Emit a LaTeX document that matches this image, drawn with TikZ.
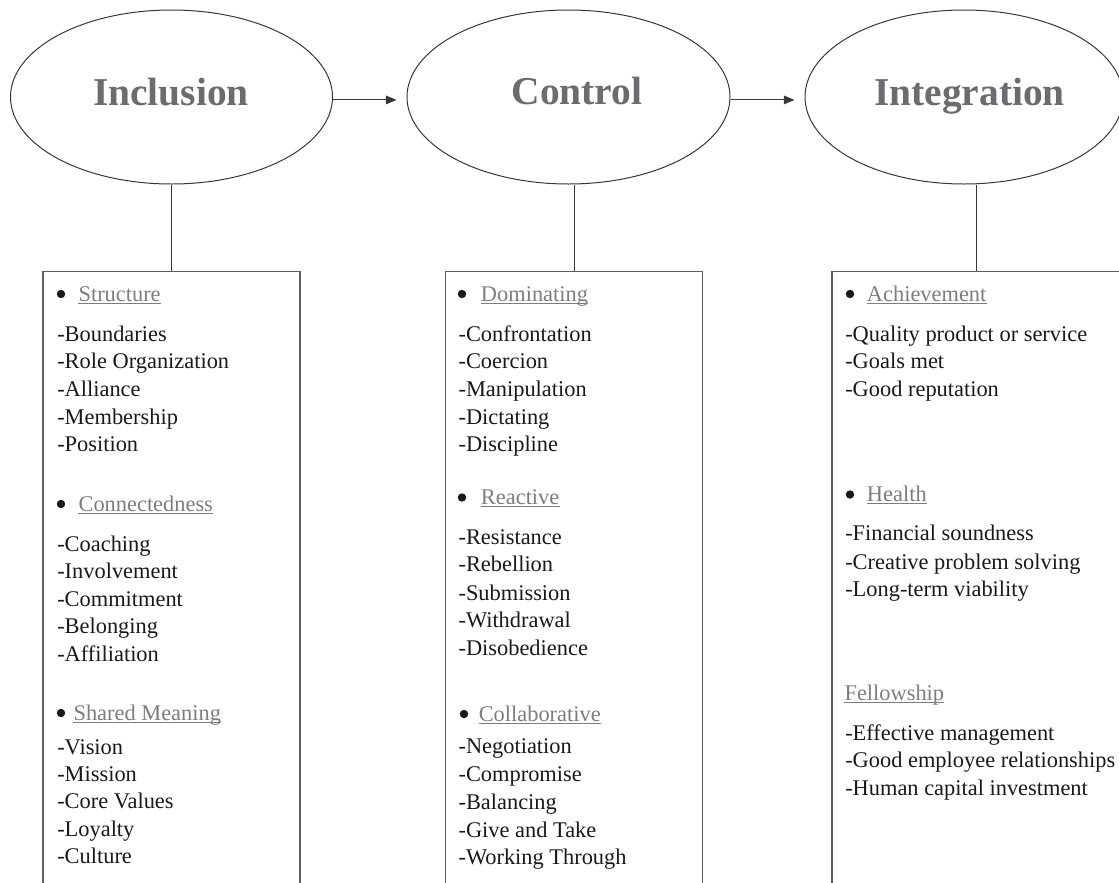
\documentclass[tikz,border=0pt]{standalone}
\usepackage{fontspec}
\setmainfont{Liberation Serif}
\usetikzlibrary{arrows.meta,shapes.geometric}
\definecolor{titlegray}{RGB}{108,108,112}
\definecolor{headgray}{RGB}{125,125,128}
\definecolor{boxline}{RGB}{95,95,95}
\definecolor{ellline}{RGB}{55,55,55}
\begin{document}
\begin{tikzpicture}[x=0.75pt,y=-0.75pt,
  ell/.style={ellipse, draw=ellline, line width=0.75pt, inner sep=0pt, minimum height=130.5pt},
  title/.style={anchor=base, inner sep=0pt, font=\fontsize{29.6}{34}\selectfont\bfseries, text=titlegray},
  colbox/.style={rectangle, draw=boxline, line width=1.1pt, anchor=north, minimum height=465pt, inner sep=0pt},
  conn/.style={draw=ellline, line width=0.75pt},
  arr/.style={draw=ellline, line width=0.8pt, -{Triangle[length=8pt,width=6.5pt]}, shorten >=7.5pt},
  item/.style={anchor=base west, inner sep=0pt, font=\fontsize{16.8}{20}\selectfont, text=black!90},
  head/.style={anchor=base west, inner sep=0pt, font=\fontsize{16.8}{20}\selectfont, text=headgray},
  bul/.style={circle, fill=black!90, inner sep=0pt, minimum size=6.3pt},
  uline/.style={draw=headgray, line width=0.9pt}
]
\useasboundingbox (0,0) rectangle (1119,882);
\clip (0,0) rectangle (1119,882);

% ellipses
\node[ell, minimum width=241.5pt] (ellI) at (171.5,97) {};
\node[ell, minimum width=242.25pt] (ellC) at (568.5,97) {};
\node[ell, minimum width=238.5pt] (ellG) at (964,97) {};
\node[title] (tI) at (171,105) {Inclusion};
\node[title] (tC) at (577,104) {Control};
\node[title] (tG) at (969.5,105) {Integration};

% arrows
\draw[arr] ([yshift=-2.2pt]ellI.east) -- ([yshift=-2.2pt]ellC.west);
\draw[arr] ([yshift=-2.2pt]ellC.east) -- ([yshift=-2.2pt]ellG.west);

% boxes
\node[colbox, minimum width=192.75pt] (boxI) at (171.5,270.7) {};
\node[colbox, minimum width=192.75pt] (boxC) at (574,270.7) {};
\node[colbox, minimum width=216pt] (boxG) at (976,270.7) {};

% connectors
\draw[conn] (ellI.south) -- (boxI.north);
\draw[conn] (boxC.north) -- (boxC.north |- ellC.south);
\draw[conn] (boxG.north) -- (boxG.north |- ellG.south);

% ---- Inclusion column
\node[bul] (bI1) at (61,294) {};
\node[head] (hI1) at (78.3,301) {Structure};
\draw[uline] ([yshift=-1.6pt]hI1.base west) -- ([yshift=-1.6pt]hI1.base east);
\node[item] (iI1) at (57,341) {-Boundaries};
\node[item] (iI2) at (57,368.5) {-Role Organization};
\node[item] (iI3) at (57,396) {-Alliance};
\node[item] (iI4) at (57,424) {-Membership};
\node[item] (iI5) at (57,451) {-Position};

\node[bul] (bI2) at (61,504) {};
\node[head] (hI2) at (78.3,511) {Connectedness};
\draw[uline] ([yshift=-1.6pt]hI2.base west) -- ([yshift=-1.6pt]hI2.base east);
\node[item] (iI6) at (57,551.7) {-Coaching};
\node[item] (iI7) at (57,578.5) {-Involvement};
\node[item] (iI8) at (57,606) {-Commitment};
\node[item] (iI9) at (57,633.5) {-Belonging};
\node[item] (iI10) at (57,661) {-Affiliation};

\node[bul] (bI3) at (61,713) {};
\node[head] (hI3) at (73.3,720) {Shared Meaning};
\draw[uline] ([yshift=-1.6pt]hI3.base west) -- ([yshift=-1.6pt]hI3.base east);
\node[item] (iI11) at (57,754) {-Vision};
\node[item] (iI12) at (57,781) {-Mission};
\node[item] (iI13) at (57,808.5) {-Core Values};
\node[item] (iI14) at (57,836) {-Loyalty};
\node[item] (iI15) at (57,863.5) {-Culture};

% ---- Control column
\node[bul] (bC1) at (462,294) {};
\node[head] (hC1) at (480.7,301) {Dominating};
\draw[uline] ([yshift=-1.6pt]hC1.base west) -- ([yshift=-1.6pt]hC1.base east);
\node[item] (iC1) at (458.3,341) {-Confrontation};
\node[item] (iC2) at (458.3,368.5) {-Coercion};
\node[item] (iC3) at (458.3,396) {-Manipulation};
\node[item] (iC4) at (458.3,424.5) {-Dictating};
\node[item] (iC5) at (458.3,451) {-Discipline};

\node[bul] (bC2) at (462,497.5) {};
\node[head] (hC2) at (480.7,504.5) {Reactive};
\draw[uline] ([yshift=-1.6pt]hC2.base west) -- ([yshift=-1.6pt]hC2.base east);
\node[item] (iC6) at (458.3,544) {-Resistance};
\node[item] (iC7) at (458.3,571.7) {-Rebellion};
\node[item] (iC8) at (458.3,600) {-Submission};
\node[item] (iC9) at (458.3,627.7) {-Withdrawal};
\node[item] (iC10) at (458.3,655) {-Disobedience};

\node[bul] (bC3) at (464,714) {};
\node[head] (hC3) at (478.5,721) {Collaborative};
\draw[uline] ([yshift=-1.6pt]hC3.base west) -- ([yshift=-1.6pt]hC3.base east);
\node[item] (iC11) at (458.3,753.5) {-Negotiation};
\node[item] (iC12) at (458.3,781) {-Compromise};
\node[item] (iC13) at (458.3,809) {-Balancing};
\node[item] (iC14) at (458.3,837) {-Give and Take};
\node[item] (iC15) at (458.3,864) {-Working Through};

% ---- Integration column
\node[bul] (bG1) at (850,294) {};
\node[head] (hG1) at (866.7,301) {Achievement};
\draw[uline] ([yshift=-1.6pt]hG1.base west) -- ([yshift=-1.6pt]hG1.base east);
\node[item] (iG1) at (845,341) {-Quality product or service};
\node[item] (iG2) at (845,368.5) {-Goals met};
\node[item] (iG3) at (845,396.7) {-Good reputation};

\node[bul] (bG2) at (850,494.5) {};
\node[head] (hG2) at (866.7,501.7) {Health};
\draw[uline] ([yshift=-1.6pt]hG2.base west) -- ([yshift=-1.6pt]hG2.base east);
\node[item] (iG4) at (845,540.7) {-Financial soundness};
\node[item] (iG5) at (845,569) {-Creative problem solving};
\node[item] (iG6) at (845,596.7) {-Long-term viability};

\node[head] (hG3) at (844.3,700) {Fellowship};
\draw[uline] ([yshift=-1.6pt]hG3.base west) -- ([yshift=-1.6pt]hG3.base east);
\node[item] (iG7) at (845,740) {-Effective management};
\node[item] (iG8) at (845,767.3) {-Good employee relationships};
\node[item] (iG9) at (845,795) {-Human capital investment};
\end{tikzpicture}
\end{document}
